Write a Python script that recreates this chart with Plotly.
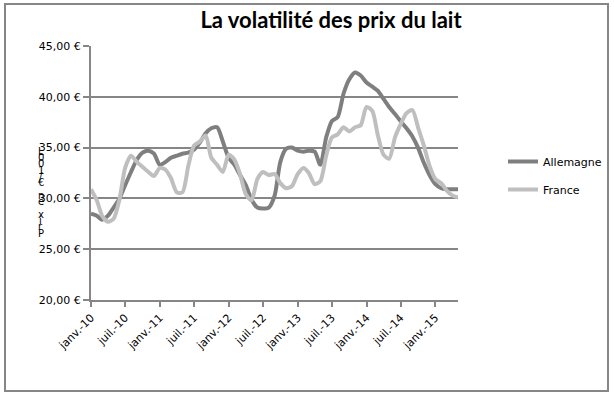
import plotly.graph_objects as go
import pandas as pd

# ---- data ----
months = pd.date_range("2010-01-01", periods=65, freq="MS")

allemagne = [28.5, 28.3, 27.9, 28.3, 29.1, 30.0, 31.3, 32.6, 33.8, 34.5,
             34.7, 34.4, 33.3, 33.6, 34.0, 34.2, 34.4, 34.5, 34.8, 35.5,
             36.4, 36.9, 37.0, 35.6, 34.0, 33.3, 32.3, 31.3, 29.9, 29.1,
             29.0, 29.1, 30.3, 33.6, 34.9, 35.0, 34.7, 34.6, 34.7, 34.6,
             33.3, 36.0, 37.6, 38.0, 40.3, 41.7, 42.4, 42.1, 41.4, 41.0,
             40.6, 39.8, 39.0, 38.3, 37.6, 36.9, 36.1, 35.0, 33.5, 32.3,
             31.4, 31.0, 30.9, 30.9, 30.9]

france = [30.9, 29.8, 28.3, 27.7, 28.0, 29.9, 33.0, 34.2, 33.6, 33.1,
          32.6, 32.2, 33.0, 32.8, 32.0, 30.6, 30.6, 33.2, 35.2, 35.6,
          36.2, 34.0, 33.3, 32.6, 34.3, 33.8, 32.4, 30.4, 29.8, 31.9,
          32.6, 32.3, 32.4, 31.5, 31.0, 31.2, 32.4, 33.0, 32.5, 31.4,
          31.7, 34.2, 36.0, 36.3, 37.0, 36.6, 37.0, 37.2, 39.0, 38.6,
          36.3, 34.3, 33.9, 36.0, 37.3, 38.4, 38.7, 37.0, 35.2, 33.2,
          31.9, 31.5, 30.8, 30.3, 30.1]

tick_dates = ["2010-01-01", "2010-07-01", "2011-01-01", "2011-07-01",
              "2012-01-01", "2012-07-01", "2013-01-01", "2013-07-01",
              "2014-01-01", "2014-07-01", "2015-01-01"]
tick_labels = ["janv.-10", "juil.-10", "janv.-11", "juil.-11", "janv.-12",
               "juil.-12", "janv.-13", "juil.-13", "janv.-14", "juil.-14",
               "janv.-15"]

y_ticks = [20, 25, 30, 35, 40, 45]
y_labels = ["20,00 €", "25,00 €", "30,00 €", "35,00 €", "40,00 €", "45,00 €"]

title_text = "La volatilité des prix du lait"
y_title = "Prix en €/100L"

# ---- layout geometry (pixels) ----
W, H = 614, 397
L, R, T, B = 91, 156, 46, 97
pw, ph = W - L - R, H - T - B

def px_x(x):
    return (x - L) / pw

def px_y(y):
    return (H - B - y) / ph

grid = "#868686"
axis_font = dict(family="DejaVu Sans", size=11, color="#000000")

fig = go.Figure()
fig.add_trace(go.Scatter(x=months, y=allemagne, name="Allemagne", mode="lines",
                         line=dict(color="#7f7f7f", width=4, shape="spline", smoothing=0.7),
                         legendgroup="a"))
fig.add_trace(go.Scatter(x=months, y=france, name="France", mode="lines",
                         line=dict(color="#bfbfbf", width=4, shape="spline", smoothing=0.7),
                         legendgroup="f"))

# stacked vertical axis title (letters upright, reading bottom to top)
chars = list(y_title)
for k, ch in enumerate(chars):
    fig.add_annotation(text=ch, x=px_x(41), y=px_y(233 - k * 6.3),
                       xref="paper", yref="paper", showarrow=False,
                       xanchor="center", yanchor="middle",
                       font=dict(family="DejaVu Sans", size=10, color="#000000"))

# outer chart border
fig.add_shape(type="rect", xref="paper", yref="paper",
              x0=px_x(5), x1=px_x(608), y0=px_y(391), y1=px_y(4),
              line=dict(color=grid, width=2), fillcolor="rgba(0,0,0,0)", layer="below")

fig.update_layout(
    width=W, height=H,
    margin=dict(l=L, r=R, t=T, b=B, autoexpand=False),
    paper_bgcolor="white", plot_bgcolor="white",
    title=dict(text="<b>" + title_text + "</b>", x=px_x(331), xref="paper", xanchor="center",
               y=1 - 20 / H, yref="container", yanchor="middle",
               font=dict(family="Lato", size=22, color="#000000")),
    showlegend=True,
    legend=dict(x=px_x(503), y=px_y(147), xanchor="left", yanchor="top",
                font=dict(family="DejaVu Sans", size=11, color="#000000"),
                traceorder="grouped", tracegroupgap=9, itemwidth=30,
                bgcolor="rgba(0,0,0,0)"),
    xaxis=dict(type="date", range=["2010-01-01", "2015-05-01"],
               tickvals=tick_dates, ticktext=tick_labels, tickangle=-45,
               ticks="outside", ticklen=5, tickwidth=2, tickcolor=grid,
               showgrid=False, showline=True, linecolor=grid, linewidth=2,
               tickfont=axis_font, zeroline=False),
    yaxis=dict(range=[20, 45], tickvals=y_ticks, ticktext=y_labels,
               ticks="outside", ticklen=6, tickwidth=2, tickcolor=grid,
               showgrid=True, gridcolor=grid, gridwidth=2,
               showline=True, linecolor=grid, linewidth=2,
               tickfont=axis_font, zeroline=False),
)

fig.write_html("out.html", config={"displayModeBar": False},
               post_script="document.body.style.margin='0';document.body.style.overflow='hidden';")
